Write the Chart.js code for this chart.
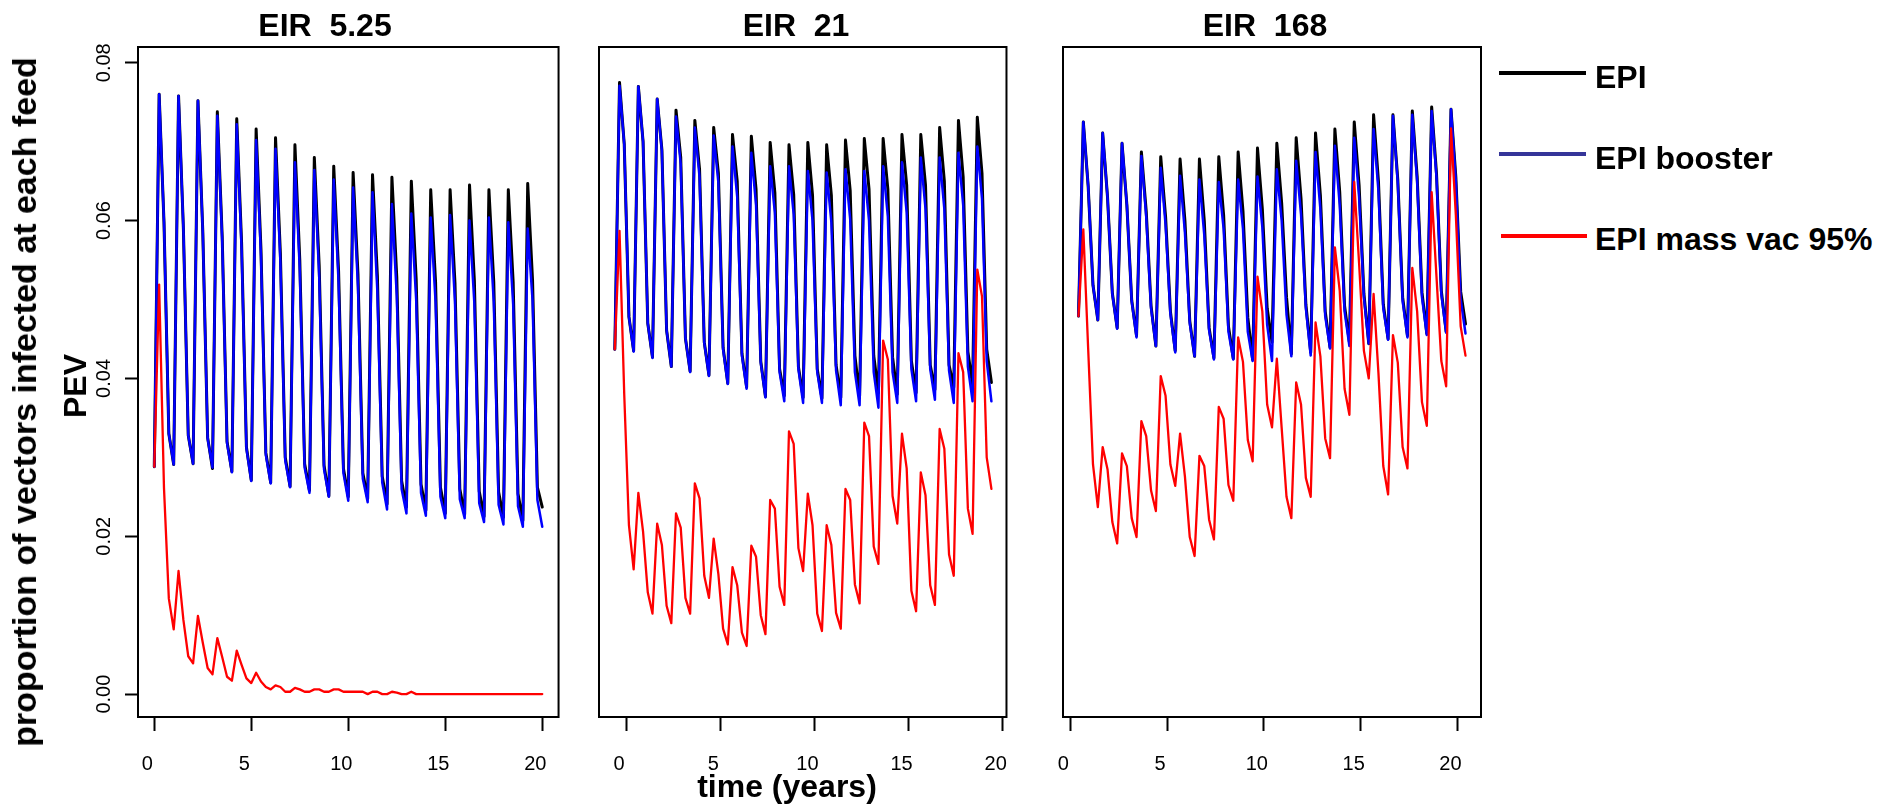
<!DOCTYPE html>
<html>
<head>
<meta charset="utf-8">
<script src="https://cdn.jsdelivr.net/npm/chart.js@4.4.0/dist/chart.umd.min.js"></script>
<style>
html,body{margin:0;padding:0;background:#fff;}
#root{position:relative;width:1893px;height:809px;overflow:hidden;font-family:'Liberation Sans',Arial,sans-serif;color:#000;}
canvas{position:absolute;top:0;}
.t{position:absolute;font-weight:bold;white-space:pre;line-height:1;transform:translate(-50%,-50%);}
.leg{position:absolute;height:4px;}
.lt{position:absolute;font-weight:bold;white-space:pre;line-height:1;transform:translateY(-50%);font-size:32px;}
</style>
</head>
<body>
<div id="root">
  <canvas id="c1" width="575" height="809" style="left:0px"></canvas>
  <canvas id="c2" width="475" height="809" style="left:560px"></canvas>
  <canvas id="c3" width="460" height="809" style="left:1040px"></canvas>

  <div class="t" style="left:325px;top:25px;font-size:32px;">EIR  5.25</div>
  <div class="t" style="left:796px;top:25px;font-size:32px;">EIR  21</div>
  <div class="t" style="left:1265px;top:25px;font-size:32px;">EIR  168</div>

  <div class="t" style="left:787px;top:786px;font-size:32px;">time (years)</div>
  <div class="t" style="left:24px;top:402px;font-size:34px;transform:translate(-50%,-50%) rotate(-90deg);">proportion of vectors infected at each feed</div>
  <div class="t" style="left:75px;top:386px;font-size:32px;transform:translate(-50%,-50%) rotate(-90deg);">PEV</div>

  <div class="leg" style="left:1499px;top:71px;width:87px;background:#000;"></div>
  <div class="lt" style="left:1595px;top:77px;">EPI</div>
  <div class="leg" style="left:1499px;top:152px;width:87px;background:#353599;"></div>
  <div class="lt" style="left:1595px;top:158px;">EPI booster</div>
  <div class="leg" style="left:1501px;top:234px;width:86px;background:#ff0000;"></div>
  <div class="lt" style="left:1595px;top:239px;">EPI mass vac 95%</div>
</div>
<script>
// ---------- data ----------
const seriesNames = ['EPI', 'EPI booster', 'EPI mass vac 95%'];
const panelTitles = ['EIR  5.25', 'EIR  21', 'EIR  168'];
const xTicks = [0, 5, 10, 15, 20];
const yTicks = [0, 0.02, 0.04, 0.06, 0.08];
const yTickLabels = ['0.00', '0.02', '0.04', '0.06', '0.08'];

// Panel 1: EIR 5.25
const timeP1 = [0,0.25,0.5,0.75,1,1.25,1.5,1.75,2,2.25,2.5,2.75,3,3.25,3.5,3.75,4,4.25,4.5,4.75,5,5.25,5.5,5.75,6,6.25,6.5,6.75,7,7.25,7.5,7.75,8,8.25,8.5,8.75,9,9.25,9.5,9.75,10,10.25,10.5,10.75,11,11.25,11.5,11.75,12,12.25,12.5,12.75,13,13.25,13.5,13.75,14,14.25,14.5,14.75,15,15.25,15.5,15.75,16,16.25,16.5,16.75,17,17.25,17.5,17.75,18,18.25,18.5,18.75,19,19.25,19.5,19.75,20];
const epiP1 = [0.0288,
 0.0760,0.0598,0.0330,0.0291, 0.0758,0.0590,0.0328,0.0292, 0.0752,0.0586,0.0325,0.0286, 0.0738,0.0580,0.0320,0.0282,
 0.0729,0.0572,0.0313,0.0271, 0.0716,0.0563,0.0306,0.0268, 0.0705,0.0558,0.0300,0.0263, 0.0696,0.0550,0.0292,0.0258,
 0.0680,0.0543,0.0290,0.0251, 0.0669,0.0536,0.0286,0.0250, 0.0661,0.0532,0.0280,0.0248, 0.0658,0.0530,0.0276,0.0241,
 0.0655,0.0528,0.0270,0.0237, 0.0650,0.0526,0.0266,0.0233, 0.0639,0.0522,0.0262,0.0229, 0.0639,0.0521,0.0260,0.0228,
 0.0645,0.0524,0.0257,0.0225, 0.0639,0.0522,0.0256,0.0224, 0.0639,0.0522,0.0254,0.0220, 0.0647,0.0524,0.0262,0.0237];
const boosterP1 = [0.0288,
 0.0760,0.0598,0.0330,0.0291, 0.0758,0.0590,0.0328,0.0292, 0.0752,0.0585,0.0324,0.0287, 0.0733,0.0575,0.0318,0.0281,
 0.0722,0.0565,0.0311,0.0270, 0.0702,0.0555,0.0303,0.0267, 0.0691,0.0548,0.0296,0.0262, 0.0674,0.0538,0.0287,0.0255,
 0.0664,0.0530,0.0285,0.0250, 0.0652,0.0522,0.0280,0.0245, 0.0642,0.0516,0.0273,0.0243, 0.0636,0.0510,0.0268,0.0234,
 0.0621,0.0505,0.0260,0.0229, 0.0609,0.0500,0.0255,0.0226, 0.0604,0.0497,0.0250,0.0223, 0.0607,0.0498,0.0247,0.0223,
 0.0600,0.0495,0.0242,0.0218, 0.0604,0.0497,0.0240,0.0215, 0.0598,0.0494,0.0238,0.0212, 0.0590,0.0499,0.0246,0.0212];
const massP1 = [0.0288,
 0.0519,0.0261,0.0121,0.0082, 0.0156,0.0094,0.0048,0.0039, 0.0099,0.0065,0.0033,0.0025, 0.0071,0.0047,0.0022,0.0017,
 0.0055,0.0037,0.0020,0.0014, 0.0027,0.0016,0.0009,0.0006, 0.0011,0.0009,0.0003,0.0003, 0.0008,0.0006,0.0003,0.0003,
 0.0006,0.0006,0.0003,0.0003, 0.0006,0.0006,0.0003,0.0003, 0.0003,0.0003,0.0003,0.0000, 0.0003,0.0003,0.0000,0.0000,
 0.0003,0.0002,0.0000,0.0000, 0.0003,0.0000,0.0000,0.0000, 0,0,0,0, 0,0,0,0,
 0,0,0,0, 0,0,0,0, 0,0,0,0, 0,0,0,0];

// Panel 2: EIR 21
const timeP2 = [-0.6,-0.35,-0.1,0.15,0.4,0.65,0.9,1.15,1.4,1.65,1.9,2.15,2.4,2.65,2.9,3.15,3.4,3.65,3.9,4.15,4.4,4.65,4.9,5.15,5.4,5.65,5.9,6.15,6.4,6.65,6.9,7.15,7.4,7.65,7.9,8.15,8.4,8.65,8.9,9.15,9.4,9.65,9.9,10.15,10.4,10.65,10.9,11.15,11.4,11.65,11.9,12.15,12.4,12.65,12.9,13.15,13.4,13.65,13.9,14.15,14.4,14.65,14.9,15.15,15.4,15.65,15.9,16.15,16.4,16.65,16.9,17.15,17.4,17.65,17.9,18.15,18.4,18.65,18.9,19.15,19.4];
const epiP2 = [0.0437,
 0.0775,0.0697,0.0478,0.0435, 0.0770,0.0700,0.0470,0.0427, 0.0754,0.0690,0.0461,0.0415, 0.0740,0.0680,0.0451,0.0409,
 0.0727,0.0665,0.0446,0.0404, 0.0718,0.0660,0.0439,0.0394, 0.0709,0.0650,0.0432,0.0389, 0.0707,0.0640,0.0422,0.0377,
 0.0699,0.0635,0.0412,0.0378, 0.0696,0.0633,0.0415,0.0376, 0.0699,0.0632,0.0412,0.0375, 0.0696,0.0632,0.0417,0.0376,
 0.0702,0.0638,0.0429,0.0378, 0.0704,0.0640,0.0429,0.0382, 0.0704,0.0640,0.0427,0.0380, 0.0709,0.0645,0.0422,0.0382,
 0.0709,0.0645,0.0417,0.0386, 0.0718,0.0650,0.0417,0.0389, 0.0727,0.0655,0.0434,0.0392, 0.0731,0.0660,0.0437,0.0395];
const boosterP2 = [0.0437,
 0.0771,0.0697,0.0478,0.0434, 0.0770,0.0700,0.0470,0.0426, 0.0754,0.0688,0.0461,0.0415, 0.0732,0.0672,0.0451,0.0408,
 0.0718,0.0655,0.0445,0.0403, 0.0708,0.0648,0.0437,0.0393, 0.0694,0.0630,0.0429,0.0387, 0.0686,0.0620,0.0420,0.0376,
 0.0669,0.0610,0.0408,0.0371, 0.0669,0.0608,0.0412,0.0369, 0.0663,0.0600,0.0408,0.0369, 0.0661,0.0598,0.0410,0.0366,
 0.0665,0.0602,0.0408,0.0366, 0.0663,0.0600,0.0408,0.0363, 0.0669,0.0605,0.0408,0.0369, 0.0674,0.0610,0.0412,0.0371,
 0.0680,0.0615,0.0412,0.0373, 0.0680,0.0615,0.0410,0.0369, 0.0686,0.0620,0.0415,0.0371, 0.0694,0.0628,0.0422,0.0371];
const massP2 = [0.0437,
 0.0587,0.0380,0.0214,0.0158, 0.0255,0.0206,0.0129,0.0102, 0.0216,0.0189,0.0112,0.0090, 0.0229,0.0211,0.0122,0.0102,
 0.0267,0.0248,0.0150,0.0122, 0.0197,0.0152,0.0083,0.0063, 0.0161,0.0138,0.0078,0.0061, 0.0188,0.0174,0.0100,0.0076,
 0.0246,0.0235,0.0136,0.0113, 0.0333,0.0317,0.0185,0.0156, 0.0254,0.0214,0.0102,0.0080, 0.0214,0.0189,0.0103,0.0083,
 0.0260,0.0246,0.0139,0.0115, 0.0344,0.0327,0.0187,0.0165, 0.0448,0.0424,0.0251,0.0216, 0.0330,0.0286,0.0131,0.0105,
 0.0281,0.0252,0.0138,0.0113, 0.0336,0.0311,0.0177,0.0150, 0.0432,0.0408,0.0235,0.0203, 0.0538,0.0504,0.0300,0.0260];

// Panel 3: EIR 168
const timeP3 = [0.42,0.67,0.92,1.17,1.42,1.67,1.92,2.17,2.42,2.67,2.92,3.17,3.42,3.67,3.92,4.17,4.42,4.67,4.92,5.17,5.42,5.67,5.92,6.17,6.42,6.67,6.92,7.17,7.42,7.67,7.92,8.17,8.42,8.67,8.92,9.17,9.42,9.67,9.92,10.17,10.42,10.67,10.92,11.17,11.42,11.67,11.92,12.17,12.42,12.67,12.92,13.17,13.42,13.67,13.92,14.17,14.42,14.67,14.92,15.17,15.42,15.67,15.92,16.17,16.42,16.67,16.92,17.17,17.42,17.67,17.92,18.17,18.42,18.67,18.92,19.17,19.42,19.67,19.92,20.17,20.42];
const epiP3 = [0.0479,
 0.0725,0.0644,0.0518,0.0474, 0.0711,0.0630,0.0508,0.0464, 0.0698,0.0620,0.0499,0.0454, 0.0687,0.0612,0.0492,0.0441,
 0.0681,0.0605,0.0485,0.0435, 0.0678,0.0600,0.0473,0.0428, 0.0678,0.0600,0.0464,0.0426, 0.0681,0.0607,0.0466,0.0425,
 0.0687,0.0612,0.0477,0.0424, 0.0692,0.0615,0.0489,0.0446, 0.0698,0.0622,0.0503,0.0431, 0.0705,0.0628,0.0494,0.0433,
 0.0711,0.0632,0.0485,0.0439, 0.0716,0.0636,0.0492,0.0446, 0.0725,0.0645,0.0507,0.0444, 0.0734,0.0650,0.0494,0.0450,
 0.0734,0.0652,0.0503,0.0454, 0.0739,0.0656,0.0509,0.0457, 0.0744,0.0660,0.0511,0.0459, 0.0741,0.0655,0.0510,0.0469];
const boosterP3 = [0.0479,
 0.0725,0.0644,0.0518,0.0474, 0.0711,0.0630,0.0507,0.0463, 0.0698,0.0620,0.0498,0.0452, 0.0682,0.0605,0.0489,0.0441,
 0.0667,0.0595,0.0482,0.0433, 0.0657,0.0585,0.0470,0.0428, 0.0652,0.0582,0.0461,0.0424, 0.0649,0.0590,0.0459,0.0424,
 0.0652,0.0590,0.0459,0.0422, 0.0656,0.0592,0.0468,0.0422, 0.0665,0.0600,0.0481,0.0428, 0.0676,0.0608,0.0489,0.0429,
 0.0687,0.0615,0.0479,0.0438, 0.0695,0.0620,0.0485,0.0441, 0.0705,0.0630,0.0503,0.0444, 0.0716,0.0638,0.0489,0.0449,
 0.0733,0.0648,0.0498,0.0452, 0.0734,0.0650,0.0503,0.0455, 0.0739,0.0655,0.0507,0.0458, 0.0741,0.0650,0.0500,0.0457];
const massP3 = [0.0479,
 0.0589,0.0438,0.0291,0.0237, 0.0313,0.0285,0.0218,0.0191, 0.0305,0.0289,0.0223,0.0199, 0.0346,0.0327,0.0258,0.0232,
 0.0403,0.0378,0.0291,0.0264, 0.0330,0.0276,0.0199,0.0175, 0.0302,0.0289,0.0221,0.0196, 0.0364,0.0349,0.0265,0.0245,
 0.0452,0.0421,0.0322,0.0295, 0.0529,0.0485,0.0367,0.0338, 0.0425,0.0337,0.0250,0.0223, 0.0395,0.0367,0.0274,0.0250,
 0.0471,0.0428,0.0324,0.0299, 0.0566,0.0511,0.0387,0.0354, 0.0649,0.0546,0.0435,0.0400, 0.0507,0.0407,0.0289,0.0253,
 0.0455,0.0420,0.0313,0.0286, 0.0540,0.0485,0.0370,0.0340, 0.0636,0.0529,0.0422,0.0390, 0.0717,0.0607,0.0466,0.0429];

// ---------- drawing ----------
const boxPlugin = {
  id: 'box',
  afterDatasetsDraw(chart) {
    const {ctx, chartArea: a} = chart;
    ctx.save();
    ctx.strokeStyle = '#000';
    ctx.lineWidth = 2;
    ctx.strokeRect(a.left, a.top, a.right - a.left, a.bottom - a.top);
    ctx.restore();
  }
};

function makePanel(id, times, epi, booster, mass, xmin, xmax, showY, padL, padR) {
  const font = {family: "'Liberation Sans', Arial, sans-serif", size: 20};
  new Chart(document.getElementById(id), {
    type: 'line',
    data: {
      labels: times,
      datasets: [
        {label: seriesNames[0], data: epi, borderColor: '#000000', borderWidth: 3, order: 2},
        {label: seriesNames[1], data: booster, borderColor: '#0000ff', borderWidth: 2.5, order: 1},
        {label: seriesNames[2], data: mass, borderColor: '#ff0000', borderWidth: 2.3, order: 0}
      ]
    },
    options: {
      responsive: false,
      animation: false,
      events: [],
      layout: {padding: {left: padL, right: padR, top: 47, bottom: 0}},
      plugins: {legend: {display: false}, tooltip: {enabled: false}, title: {display: false}},
      elements: {
        point: {radius: 0},
        line: {tension: 0, borderJoinStyle: 'round', borderCapStyle: 'round', fill: false}
      },
      scales: {
        x: {
          type: 'linear', min: xmin, max: xmax,
          afterBuildTicks: s => { s.ticks = xTicks.map(v => ({value: v})); },
          afterFit: s => { s.height = 92; },
          grid: {display: true, drawOnChartArea: false, drawTicks: true, tickLength: 14, tickWidth: 2, tickColor: '#000'},
          border: {display: false},
          ticks: {font: font, color: '#000', padding: 21, labelOffset: -7, minRotation: 0, maxRotation: 0, autoSkip: false,
                  callback: v => String(v)}
        },
        y: {
          type: 'linear', min: -0.0029, max: 0.082, display: showY,
          afterBuildTicks: s => { s.ticks = yTicks.map(v => ({value: v})); },
          afterFit: s => { s.width = showY ? 138 : 0; },
          grid: {display: true, drawOnChartArea: false, drawTicks: true, tickLength: 13, tickWidth: 2, tickColor: '#000'},
          border: {display: false},
          ticks: {font: font, color: '#000', padding: 1, minRotation: 90, maxRotation: 90, crossAlign: 'center', autoSkip: false,
                  callback: (v, i) => yTickLabels[i]}
        }
      }
    },
    plugins: [boxPlugin]
  });
}

makePanel('c1', timeP1, epiP1, boosterP1, massP1, -0.84, 20.84, true, 0, 16);
makePanel('c2', timeP2, epiP2, boosterP2, massP2, -1.44, 20.2, false, 39, 18);
makePanel('c3', timeP3, epiP3, boosterP3, massP3, -0.38, 21.22, false, 23, 19);
</script>
</body>
</html>
